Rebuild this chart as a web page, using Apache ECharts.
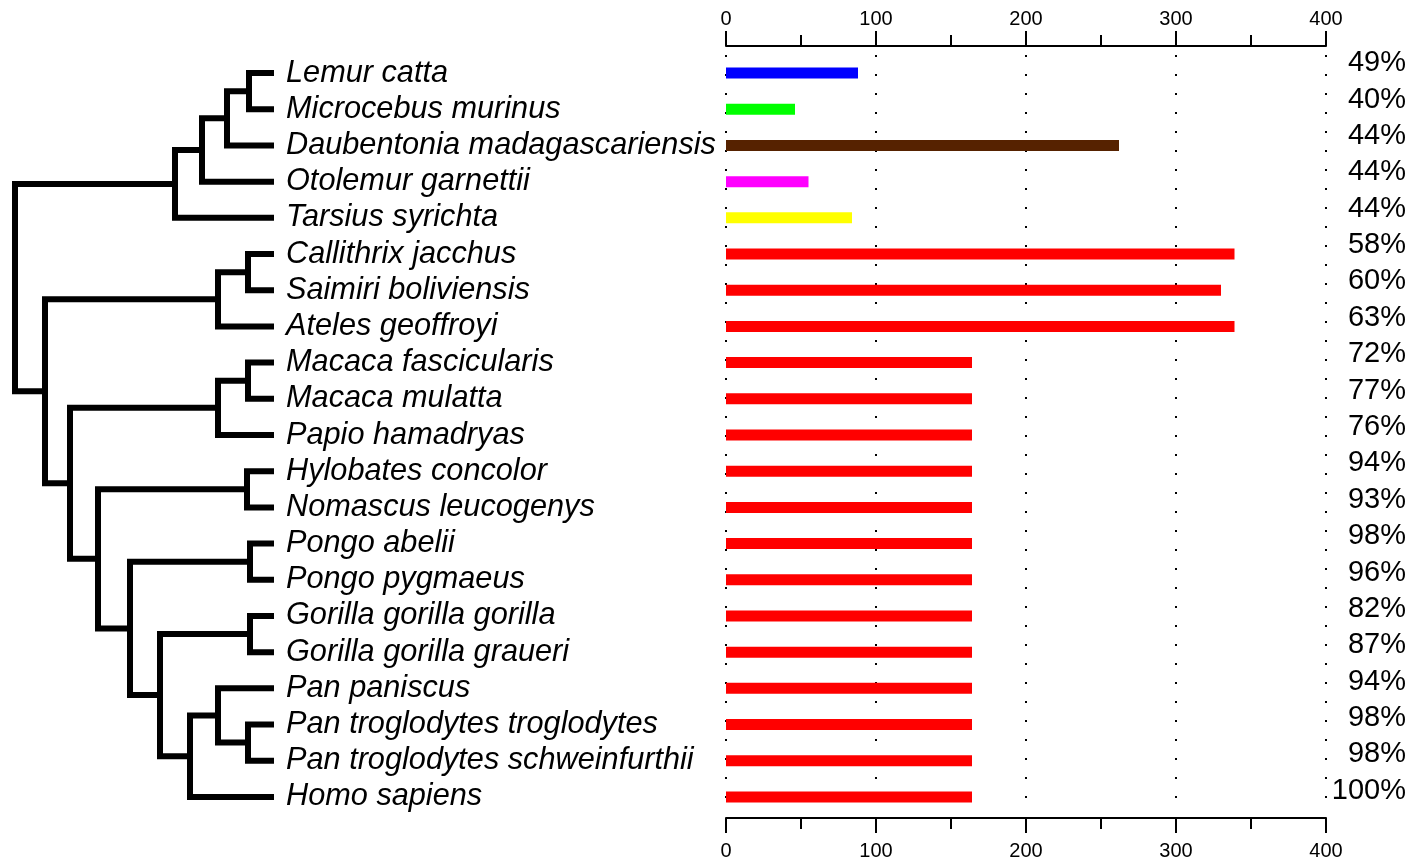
<!DOCTYPE html>
<html>
<head>
<meta charset="utf-8">
<script src="https://cdn.jsdelivr.net/npm/echarts@6/dist/echarts.min.js"></script>
<style>
html,body{margin:0;padding:0;background:#fff;}
#chart{width:1410px;height:863px;}
</style>
</head>
<body>
<div id="chart"></div>
<script>
// ---------------- DATA ----------------
const species = [
  'Lemur catta','Microcebus murinus','Daubentonia madagascariensis','Otolemur garnettii',
  'Tarsius syrichta','Callithrix jacchus','Saimiri boliviensis','Ateles geoffroyi',
  'Macaca fascicularis','Macaca mulatta','Papio hamadryas','Hylobates concolor',
  'Nomascus leucogenys','Pongo abelii','Pongo pygmaeus','Gorilla gorilla gorilla',
  'Gorilla gorilla graueri','Pan paniscus','Pan troglodytes troglodytes',
  'Pan troglodytes schweinfurthii','Homo sapiens'
];
const barValues = [88,46,262,55,84,339,330,339,164,164,164,164,164,164,164,164,164,164,164,164,164];
const percents = [49,40,44,44,44,58,60,63,72,77,76,94,93,98,96,82,87,94,98,98,100];
const axisTicks = [0,100,200,300,400];
// tree clades: [id, branch position (depth), child A, child B]; leaves at depth leafDepth
const leafDepth = 274;
const treeNodes = [
  ['lm', 249, 'Lemur catta', 'Microcebus murinus'],
  ['lmd', 227, 'lm', 'Daubentonia madagascariensis'],
  ['lmdo', 202, 'lmd', 'Otolemur garnettii'],
  ['prosim', 175, 'lmdo', 'Tarsius syrichta'],
  ['cs', 248, 'Callithrix jacchus', 'Saimiri boliviensis'],
  ['nwm', 218, 'cs', 'Ateles geoffroyi'],
  ['mm', 248, 'Macaca fascicularis', 'Macaca mulatta'],
  ['owm', 218, 'mm', 'Papio hamadryas'],
  ['gib', 247, 'Hylobates concolor', 'Nomascus leucogenys'],
  ['pongo', 250, 'Pongo abelii', 'Pongo pygmaeus'],
  ['gor', 250, 'Gorilla gorilla gorilla', 'Gorilla gorilla graueri'],
  ['ptr', 248, 'Pan troglodytes troglodytes', 'Pan troglodytes schweinfurthii'],
  ['pan', 218, 'Pan paniscus', 'ptr'],
  ['panhomo', 190, 'pan', 'Homo sapiens'],
  ['african', 160, 'gor', 'panhomo'],
  ['great', 130, 'pongo', 'african'],
  ['hominoid', 98, 'gib', 'great'],
  ['catarrh', 70, 'owm', 'hominoid'],
  ['anthro', 45, 'nwm', 'catarrh'],
  ['root', 15, 'prosim', 'anthro']
];

// ---------------- BUILD ----------------
const BAR_COLORS = ['#0000ff','#00ff00','#562200','#ff00ff','#ffff00'];
const pos = {};
species.forEach((s, i) => { pos[s] = [leafDepth, i]; });
const treeLines = [];
treeNodes.forEach(([id, d, a, b]) => {
  const pa = pos[a], pb = pos[b];
  const y = (pa[1] + pb[1]) / 2;
  pos[id] = [d, y];
  treeLines.push({coords: [[pa[0], pa[1]], [d, pa[1]], [d, pb[1]], [pb[0], pb[1]]]});
});

const FONT = 'Liberation Sans';
const chart = echarts.init(document.getElementById('chart'), null, {renderer: 'canvas'});
chart.setOption({
  animation: false,
  backgroundColor: '#ffffff',
  grid: [
    {left: 0, width: leafDepth, top: 55, height: 760},
    {left: 726, right: 84, top: 55, height: 760},
    {left: 1406, width: 2, top: 45, height: 764}
  ],
  xAxis: [
    {gridIndex: 0, type: 'value', min: 0, max: leafDepth, show: false},
    {gridIndex: 1, type: 'value', position: 'top', offset: 9, min: 0, max: 400, interval: 100,
      axisLine: {show: true, lineStyle: {color: '#000', width: 2}},
      axisTick: {show: true, inside: false, length: 15, lineStyle: {color: '#000', width: 2}},
      minorTick: {show: true, splitNumber: 2, length: 11, lineStyle: {color: '#000', width: 2}},
      axisLabel: {show: true, margin: 17, color: '#000', fontSize: 20, fontFamily: FONT,
        formatter: v => axisTicks.indexOf(v) >= 0 ? String(v) : ''},
      splitLine: {show: true, lineStyle: {color: '#000', width: 2, type: [2, 17]}}
    },
    {gridIndex: 1, type: 'value', position: 'bottom', offset: 3, min: 0, max: 400, interval: 100,
      axisLine: {show: true, lineStyle: {color: '#000', width: 2}},
      axisTick: {show: true, inside: false, length: 15, lineStyle: {color: '#000', width: 2}},
      minorTick: {show: true, splitNumber: 2, length: 11, lineStyle: {color: '#000', width: 2}},
      axisLabel: {show: true, margin: 23, color: '#000', fontSize: 20, fontFamily: FONT,
        formatter: v => axisTicks.indexOf(v) >= 0 ? String(v) : ''},
      splitLine: {show: false}
    },
    {gridIndex: 2, type: 'value', min: 0, max: 1, show: false}
  ],
  yAxis: [
    {gridIndex: 0, type: 'value', min: -0.5, max: species.length - 0.5, inverse: true, show: false},
    {gridIndex: 0, type: 'category', data: species, inverse: true, position: 'right',
      axisLine: {show: false}, axisTick: {show: false}, splitLine: {show: false},
      axisLabel: {show: true, interval: 0, hideOverlap: false, align: 'left', margin: 12, color: '#000',
        fontSize: 30.7, fontStyle: 'italic', fontFamily: FONT, padding: [4, 0, 0, 0]}
    },
    {gridIndex: 1, type: 'category', data: species, inverse: true,
      axisLine: {show: false}, axisTick: {show: false}, axisLabel: {show: false}, splitLine: {show: false}},
    {gridIndex: 2, type: 'category', data: percents.map(p => p + '%'), inverse: true, position: 'left',
      axisLine: {show: false}, axisTick: {show: false}, splitLine: {show: false},
      axisLabel: {show: true, interval: 0, hideOverlap: false, align: 'right', margin: 0, color: '#000',
        fontSize: 29, fontFamily: FONT}
    }
  ],
  series: [
    {type: 'lines', coordinateSystem: 'cartesian2d', xAxisIndex: 0, yAxisIndex: 0, polyline: true,
      silent: true,
      lineStyle: {color: '#000', width: 6, opacity: 1, join: 'miter', cap: 'butt'},
      data: treeLines},
    {type: 'bar', xAxisIndex: 1, yAxisIndex: 2, barWidth: 11, silent: true,
      data: barValues.map((v, i) => ({value: v, itemStyle: {color: BAR_COLORS[i] || '#ff0000'}}))}
  ]
});
</script>
</body>
</html>
